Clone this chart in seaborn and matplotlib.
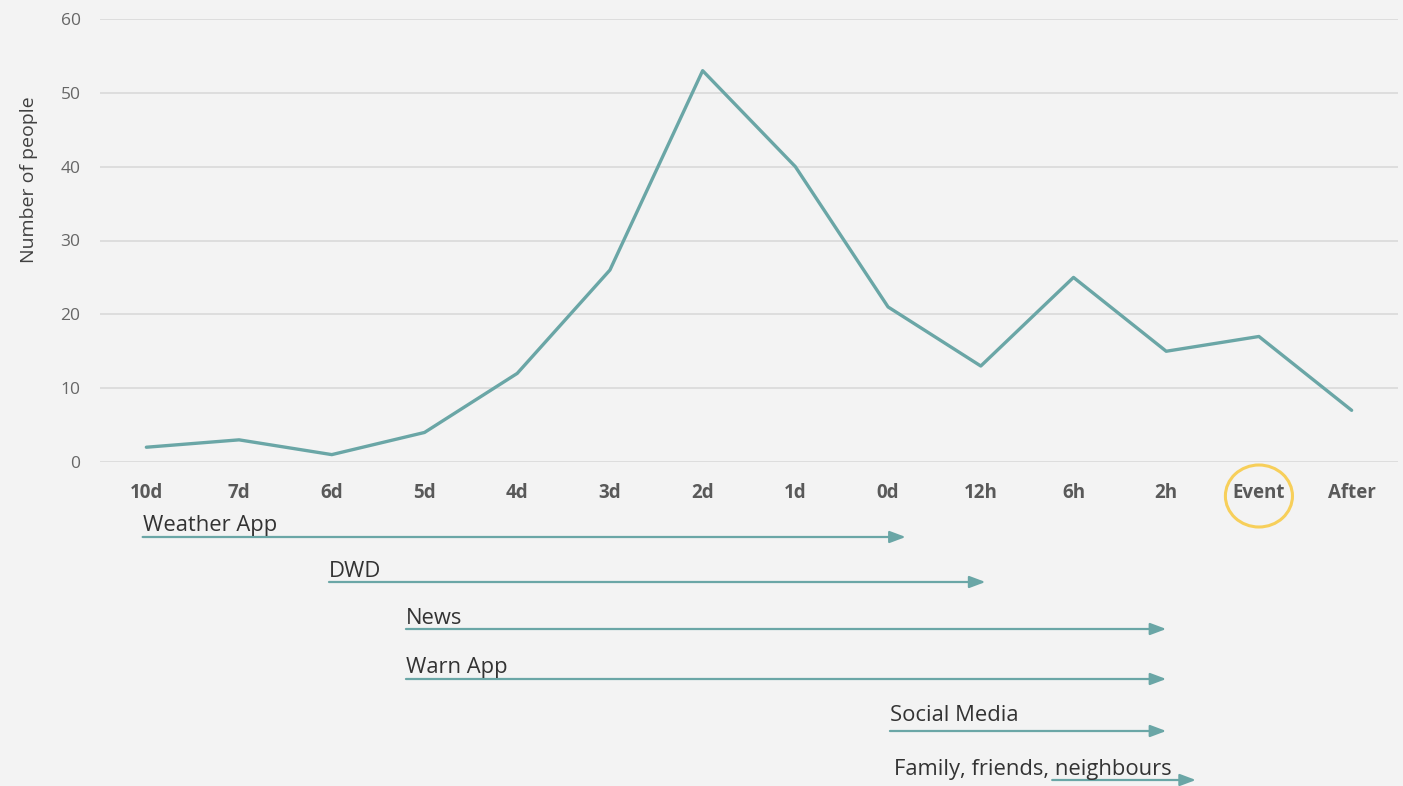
import matplotlib
matplotlib.use("Agg")
import matplotlib.pyplot as plt
from matplotlib.patches import Ellipse
import seaborn as sns
import pandas as pd

# ---- data ----
categories = ["10d", "7d", "6d", "5d", "4d", "3d", "2d", "1d", "0d", "12h", "6h", "2h", "Event", "After"]
people = [2, 3, 1, 4, 12, 26, 53, 40, 21, 13, 25, 15, 17, 7]
y_ticks = [0, 10, 20, 30, 40, 50, 60]

source_labels = ["Weather App", "DWD", "News", "Warn App", "Social Media", "Family, friends, neighbours"]
source_start = [-0.04, 1.97, 2.80, 2.80, 8.02, 9.77]   # in category units
source_end = [8.19, 9.05, 11.0, 11.0, 11.0, 11.32]
label_start = [-0.04, 1.97, 2.80, 2.80, 8.02, 8.06]

BG = "#f3f3f3"
TEAL = "#6aa6a6"
W, H = 1403, 786

sns.set_theme(style="white")
plt.rcParams["font.family"] = ["Open Sans", "DejaVu Sans"]

fig = plt.figure(figsize=(W / 100, H / 100), dpi=100, facecolor=BG)
ax = fig.add_axes([100 / W, 1 - 462 / H, 1298 / W, 443 / H], facecolor=BG)

df = pd.DataFrame({"when": categories, "people": people})
sns.lineplot(data=df, x="when", y="people", ax=ax, color=TEAL, linewidth=2.4, sort=False)

ax.set_xlim(-0.5, len(categories) - 0.5)
ax.set_ylim(0, 60)
ax.set_yticks(y_ticks)
ax.grid(axis="y", color="#d9d9d9", linewidth=1.2)
ax.set_axisbelow(True)
for s in ax.spines.values():
    s.set_visible(False)
ax.tick_params(axis="y", length=0, pad=14, labelsize=12.5, labelcolor="#666666")
ax.tick_params(axis="x", length=0, pad=15, labelsize=13.5, labelcolor="#595959")
for t in ax.get_xticklabels():
    t.set_fontweight("bold")
ax.set_xlabel("")
ax.set_ylabel("Number of people", fontsize=14, color="#404040")
ax.yaxis.set_label_coords(-0.048, 0.637)

# ---- lower timeline axes (y in pixel rows) ----
ax2 = fig.add_axes([100 / W, 0, 1298 / W, (H - 462) / H], sharex=ax)
ax2.set_ylim(H, 462)
ax2.axis("off")
ax2.patch.set_alpha(0)

arrow_rows = [537, 582, 629, 679, 731, 780]
text_rows = [531, 577, 624, 673, 721, 775]
for lab, s, e, ls, ay, ty in zip(source_labels, source_start, source_end, label_start, arrow_rows, text_rows):
    ax2.annotate("", xy=(e, ay), xytext=(s, ay),
                 arrowprops=dict(arrowstyle="-|>,head_length=0.8,head_width=0.3",
                                 color=TEAL, lw=1.6, shrinkA=0, shrinkB=0),
                 annotation_clip=False)
    ax2.text(ls, ty, lab, fontsize=15.8, color="#333333", ha="left", va="baseline", clip_on=False)

ev = categories.index("Event")
ax2.add_patch(Ellipse((ev, 496), width=67 / 92.6, height=62, fill=False,
                      edgecolor="#f7cf5a", linewidth=2.2, clip_on=False))

fig.savefig("out.png", dpi=100, facecolor=BG)
